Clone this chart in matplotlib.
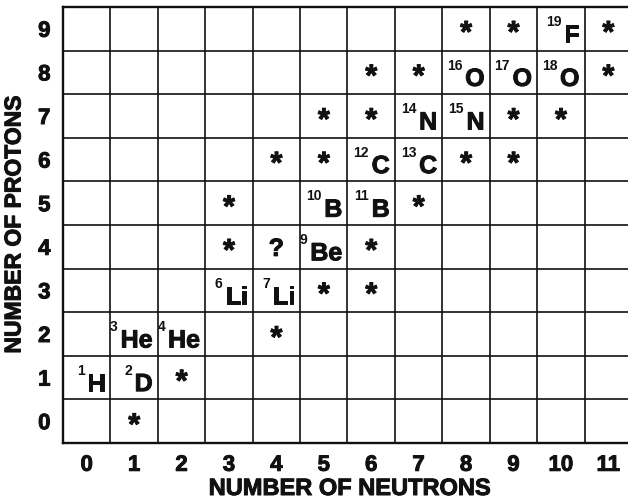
import numpy as np
import matplotlib
matplotlib.use("Agg")
import matplotlib.pyplot as plt
import matplotlib.patheffects as pe

plt.rcParams["font.family"] = ["Liberation Sans", "DejaVu Sans"]
plt.rcParams["font.weight"] = "bold"

# grid extent
neutrons = list(range(12))
protons = list(range(10))

# stable / known nuclides: (N, Z, mass number, symbol)
iso_n = [0, 1, 1, 2, 3, 4, 5, 5, 6, 6, 7, 7, 8, 8, 9, 10, 10]
iso_z = [1, 1, 2, 2, 3, 3, 4, 5, 5, 6, 6, 7, 7, 8, 8, 8, 9]
iso_a = [1, 2, 3, 4, 6, 7, 9, 10, 11, 12, 13, 14, 15, 16, 17, 18, 19]
iso_sym = ["H", "D", "He", "He", "Li", "Li", "Be", "B", "B", "C", "C",
           "N", "N", "O", "O", "O", "F"]

# unstable nuclides (asterisks)
unst_n = [1, 2, 4, 5, 6, 3, 6, 3, 7, 4, 5, 8, 9, 5, 6, 9, 10, 6, 7, 11, 8, 9, 11]
unst_z = [0, 1, 2, 3, 3, 4, 4, 5, 5, 6, 6, 6, 6, 7, 7, 7, 7, 8, 8, 8, 9, 9, 9]

# unknown
unk_n = [4]
unk_z = [4]

ink = "#111111"
heavy = [pe.withStroke(linewidth=0.7, foreground=ink)]

fig = plt.figure(figsize=(6.28, 5.0), dpi=100)
ax = fig.add_axes([63 / 628, 1 - 443 / 500, 569 / 628, 436 / 500])

ax.set_xlim(-0.5, len(neutrons) - 0.5)
ax.set_ylim(-0.5, len(protons) - 0.5)

# cell grid
for x in np.arange(-0.5, len(neutrons), 1.0):
    ax.axvline(x, color=ink, lw=1.2)
for y in np.arange(-0.5, len(protons), 1.0):
    ax.axhline(y, color=ink, lw=1.2)
for s in ax.spines.values():
    s.set_color(ink)
    s.set_linewidth(1.7)

# known nuclides: symbol right-aligned, mass number as left superscript
for n, z, a, sym in zip(iso_n, iso_z, iso_a, iso_sym):
    t = ax.text(n + 0.39, z - 0.31, sym, ha="right", va="baseline",
                fontsize=18, fontweight="bold", color=ink, path_effects=heavy)
    ax.annotate(str(a), xy=(0, 1), xycoords=t, xytext=(-2, 6),
                textcoords="offset points", ha="right", va="top",
                fontsize=10, fontweight="bold", color=ink)

# unstable
for n, z in zip(unst_n, unst_z):
    ax.annotate("*", xy=(n, z), xytext=(0, -9.5), textcoords="offset points",
                ha="center", va="baseline", fontsize=22, fontweight="bold",
                color=ink, path_effects=heavy)

for n, z in zip(unk_n, unk_z):
    ax.annotate("?", xy=(n, z), xytext=(0, -1.5), textcoords="offset points",
                ha="center", va="center", fontsize=18, fontweight="bold",
                color=ink, path_effects=heavy)

ax.set_xticks(neutrons)
ax.set_yticks(protons)
ax.set_xticklabels([str(v) for v in neutrons])
ax.set_yticklabels([str(v) for v in protons])
ax.tick_params(length=0, labelsize=16, colors=ink)
ax.tick_params(axis="x", pad=8.5)
ax.tick_params(axis="y", pad=9)
for lbl in ax.get_xticklabels() + ax.get_yticklabels():
    lbl.set_fontweight("bold")
    lbl.set_path_effects(heavy)

ax.set_xlabel("NUMBER OF NEUTRONS", fontsize=17, fontweight="bold",
              color=ink, path_effects=heavy)
ax.set_ylabel("NUMBER OF PROTONS", fontsize=16.5, fontweight="bold",
              color=ink, labelpad=9, path_effects=heavy)
ax.xaxis.set_label_coords((350 - 63) / 569, -0.078)

fig.savefig("out.png", dpi=100)
